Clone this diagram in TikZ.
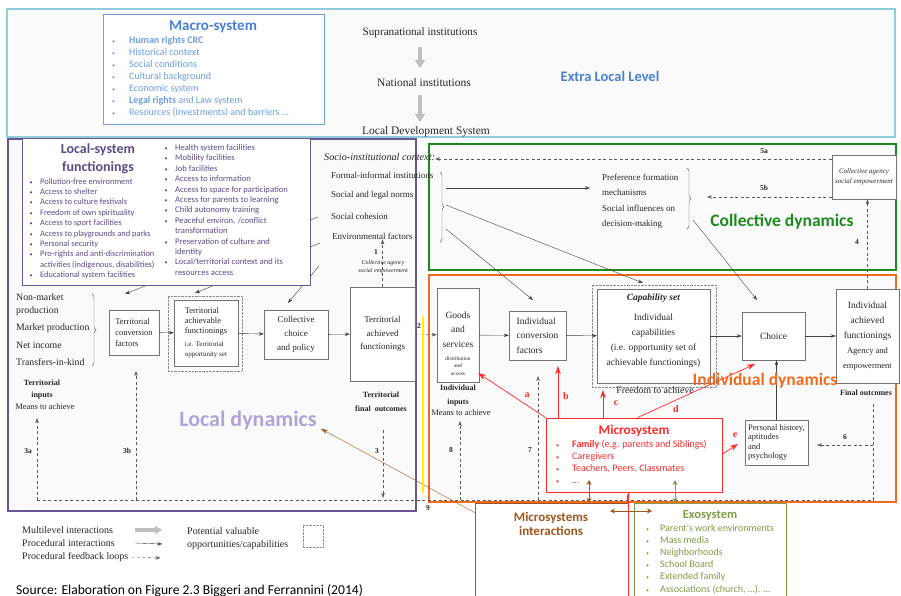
\documentclass[tikz,border=0pt]{standalone}
\usepackage{fontspec}
\setmainfont{Liberation Serif}
\newfontfamily\sansc{Carlito}
\usetikzlibrary{arrows.meta}
\usetikzlibrary{decorations.pathreplacing}

\definecolor{bggray}{HTML}{FAFAFA}
\definecolor{elblue}{HTML}{92CDDC}
\definecolor{macroline}{HTML}{6FA0E0}
\definecolor{macroblue}{HTML}{4A80D4}
\definecolor{macroitem}{HTML}{6C9DE2}
\definecolor{locpurple}{HTML}{6B5694}
\definecolor{loctext}{HTML}{5E4A86}
\definecolor{locdyn}{HTML}{B3A2D6}
\definecolor{colgreen}{HTML}{1E8A1E}
\definecolor{indorange}{HTML}{F26B1D}
\definecolor{microred}{HTML}{FF2A2A}
\definecolor{mintbrown}{HTML}{A0561E}
\definecolor{exoolive}{HTML}{7E9D45}

\newcommand{\itembul}{{\fontsize{6}{6}\selectfont\textbullet}}

\begin{document}
\begin{tikzpicture}[x=1pt, y=-1pt,
  zone/.style={line width=1.8pt, fill=bggray},
  box/.style={draw=black!55, fill=white, align=center, inner sep=0pt, text=black!85},
  optset/.style={draw=black!45, densely dotted},
  txt/.style={inner sep=0pt, text=black!85, font=\fontsize{9}{11}\selectfont},
  lbl/.style={inner sep=0pt, text=black!85, font=\bfseries\fontsize{7.5}{9}\selectfont},
  redlbl/.style={inner sep=0pt, text=microred, font=\bfseries\fontsize{10}{12}\selectfont},
  proc/.style={black!75, -{Stealth[length=5pt,width=3.5pt]}},
  fback/.style={black!65, dash pattern=on 3pt off 2.5pt, -{Stealth[length=5pt,width=3.5pt]}},
  multi/.style={black!25, line width=4.5pt, -{Triangle[length=8pt,width=10pt]}},
  redarr/.style={microred, line width=0.7pt, -{Stealth[length=8pt,width=5.5pt]}},
  dbl/.style={line width=1pt, {Stealth[length=5pt,width=5pt]}-{Stealth[length=5pt,width=5pt]}},
  brc/.style={black!60, decorate, decoration={brace, amplitude=4pt}},
  dyn/.style={inner sep=0pt, font=\sansc\bfseries\fontsize{17.5}{20}\selectfont},
]
  \useasboundingbox (0,0) rectangle (901,596);

  % the four levels
  \draw[zone, draw=elblue] (7,9) rectangle (895,137);
  \draw[zone, draw=locpurple] (8,139) rectangle (416,511);
  \draw[zone, draw=colgreen] (429,144) rectangle (896,270);
  \draw[zone, draw=indorange] (429,275) rectangle (896,502);

  % extra local level
  \node[draw=macroline, fill=white, minimum width=221, minimum height=110, inner sep=0] (macro) at (213.5,69) {};
  \node[inner sep=0, text=macroblue, font=\sansc\bfseries\fontsize{15}{17}\selectfont] (macrot) at (213,27) {Macro-system};
  \node[anchor=base west, inner sep=0, text=macroitem, font=\sansc\fontsize{10}{12}\selectfont] (macrol) at (112,44) {%
    \begin{tabular}[t]{@{}p{17pt}@{}l@{}}
      \itembul & \textbf{Human rights CRC}\\
      \itembul & Historical context\\
      \itembul & Social conditions\\
      \itembul & Cultural background\\
      \itembul & Economic system\\
      \itembul & \textbf{Legal rights} and Law system\\
      \itembul & Resources (Investments) and barriers …
    \end{tabular}};
  \node[txt, font=\fontsize{11.2}{13}\selectfont] (supra) at (420,33) {Supranational institutions};
  \node[txt, font=\fontsize{11.5}{13}\selectfont] (natio) at (424,83) {National institutions};
  \node[txt, font=\fontsize{11.5}{13}\selectfont] (ldsys) at (426,132) {Local Development System};
  \draw[multi, shorten <=9pt, shorten >=15pt] (supra) -- (supra |- natio);
  \draw[multi, shorten <=12pt, shorten >=10pt] (supra |- natio) -- (supra |- ldsys);
  \node[inner sep=0, text=macroblue, font=\sansc\bfseries\fontsize{14.5}{16}\selectfont] (extra) at (610,76) {Extra Local Level};

  % socio-institutional context
  \node[txt, anchor=west, font=\itshape\fontsize{10.2}{12}\selectfont] (socio) at (324,157) {Socio-institutional context:};
  \node[txt, anchor=west] (fii) at (331,175) {Formal-informal institutions};
  \node[txt, anchor=west] (sln) at (331,195) {Social and legal norms};
  \node[txt, anchor=west] (scoh) at (331,216) {Social cohesion};
  \node[txt, anchor=west] (envf) at (332,236) {Environmental factors};
  \draw[brc] (440,172) -- (440,242);
  \coordinate (sc1) at (446,188);
  \coordinate (sc2) at (446,205);
  \coordinate (sc3) at (446,229);

  % lines running under the local-system box
  \coordinate (sc4) at (318,217);
  \coordinate (sc5) at (320,243);
  \coordinate (sc6) at (319,266);
  \coordinate (tcfin) at (125,294);
  \coordinate (tafin) at (195,293);
  \coordinate (ccpin) at (288,303);
  \draw[proc] (sc4) -- (tcfin);
  \draw[proc] (sc5) -- (tafin);
  \draw[proc] (sc6) -- (ccpin);

  % local-system functionings
  \node[draw=locpurple, fill=white, minimum width=288, minimum height=147, inner sep=0] (lsys) at (166,211.5) {};
  \node[inner sep=0, align=center, text=loctext, font=\sansc\bfseries\fontsize{14}{18}\selectfont] (lsyst) at (98,159) {Local-system\\functionings};
  \node[anchor=base west, inner sep=0, text=loctext, font=\sansc\fontsize{8.4}{10.4}\selectfont] (lsysl) at (29.5,184) {%
    \begin{tabular}[t]{@{}p{10.5pt}@{}l@{}}
      \itembul & Pollution-free environment\\
      \itembul & Access to shelter\\
      \itembul & Access to culture festivals\\
      \itembul & Freedom of own spirituality\\
      \itembul & Access to sport facilities\\
      \itembul & Access to playgrounds and parks\\
      \itembul & Personal security\\
      \itembul & Pro-rights and anti-discrimination\\
               & activities (indigenous, disabilities)\\
      \itembul & Educational system facilities
    \end{tabular}};
  \node[anchor=base west, inner sep=0, text=loctext, font=\sansc\fontsize{8.6}{10.4}\selectfont] (lsysr) at (164.5,150.5) {%
    \begin{tabular}[t]{@{}p{10.5pt}@{}l@{}}
      \itembul & Health system facilities\\
      \itembul & Mobility facilities\\
      \itembul & Job facilities\\
      \itembul & Access to information\\
      \itembul & Access to space for participation\\
      \itembul & Access for parents to learning\\
      \itembul & Child autonomy training\\
      \itembul & Peaceful environ. /conflict\\
               & transformation\\
      \itembul & Preservation of culture and\\
               & identity\\
      \itembul & Local/territorial context and its\\
               & resources access
    \end{tabular}};

  % local dynamics
  \node[txt, anchor=west, font=\fontsize{9.8}{11}\selectfont] (nmp) at (16,297) {Non-market};
  \node[txt, anchor=west, font=\fontsize{9.8}{11}\selectfont] (prod) at (16,311) {production};
  \node[txt, anchor=west, font=\fontsize{9.8}{11}\selectfont] (mprod) at (16,328) {Market production};
  \node[txt, anchor=west, font=\fontsize{9.8}{11}\selectfont] (netinc) at (16,345) {Net income};
  \node[txt, anchor=west, font=\fontsize{9.8}{11}\selectfont] (tik) at (16,362) {Transfers-in-kind};
  \draw[brc] (92,294) -- (92,366);
  \node[box, align=left, minimum width=50, minimum height=45, font=\fontsize{8.5}{11}\selectfont] (tcf) at (134,332.5) {Territorial\\conversion\\factors};
  \node[optset, minimum width=74, minimum height=75] (tafout) at (205,333.5) {};
  \node[box, align=left, minimum width=64, minimum height=66, font=\fontsize{8.5}{10}\selectfont] (taf) at (206,333) {Territorial\\achievable\\functionings\\[3pt]\fontsize{7}{9}\selectfont i.e. Territorial\\\fontsize{7}{9}\selectfont opportunity set};
  \node[box, minimum width=64, minimum height=49, font=\fontsize{9}{14}\selectfont] (ccp) at (296,334.5) {Collective\\choice\\and policy};
  \node[box, minimum width=65, minimum height=94, font=\fontsize{9}{13.5}\selectfont] (tach) at (382.5,334) {Territorial\\achieved\\functionings};
  \draw[proc] (tcf) -- (taf);
  \draw[proc] (taf) -- (ccp);
  \draw[proc] (ccp) -- (tach);
  \node[lbl, align=center, font=\bfseries\fontsize{8}{12}\selectfont] (tinp) at (42,390) {Territorial\\inputs};
  \node[txt, font=\fontsize{8.5}{10}\selectfont] (tmta) at (45,407) {Means to achieve};
  \node[lbl, align=center, font=\bfseries\fontsize{8}{14}\selectfont] (tfo) at (381,402) {Territorial\\final\ \ outcomes};
  \draw[fback] (tach.north) -- (tach.north |- envf.south);
  \node[lbl] (l1) at (376,252) {1};
  \node[txt, align=center, font=\itshape\fontsize{6}{8}\selectfont] (ca1) at (383,267) {Collective agency\\social empowerment};

  % collective dynamics
  \node[txt, anchor=west] (pfm) at (602,177) {Preference formation};
  \node[txt, anchor=west] (mech) at (602,192) {mechanisms};
  \node[txt, anchor=west] (sinf) at (602,208) {Social influences on};
  \node[txt, anchor=west] (dmak) at (602,224) {decision-making};
  \draw[brc] (687,168) -- (687,229);
  \node[box, minimum width=64, minimum height=44, font=\itshape\fontsize{7}{10}\selectfont] (colag) at (864,177) {Collective agency\\social empowerment};
  \coordinate (pfin) at (590,188);
  \coordinate (pfout) at (693,220);
  \coordinate (pfbr) at (707,197);
  \coordinate (capin) at (643,283);
  \coordinate (icfin) at (533,300);
  \coordinate (chin) at (757,300);
  \draw[proc] (sc1) -- (pfin);
  \draw[proc] (sc2) -- (capin);
  \draw[proc] (sc3) -- (icfin);
  \draw[proc] (pfout) -- (chin);
  \draw[fback] ([yshift=18pt]colag.west) -- ([yshift=18pt]colag.west -| socio.east);
  \draw[fback] ([yshift=-20pt]colag.west) -- (pfbr);
  \node[lbl] (l5a) at (764,151) {5a};
  \node[lbl] (l5b) at (764,188) {5b};

  % individual dynamics
  \node[box, minimum width=42, minimum height=94] (goods) at (458,335) {};
  \node[txt, align=center, font=\fontsize{9.5}{14.5}\selectfont] (goodstxt) at (458,343.5) {Goods\\and\\services\\[-1.5pt]\fontsize{5.5}{7.5}\selectfont distribution\\[-7pt]\fontsize{5.5}{7.5}\selectfont and\\[-7pt]\fontsize{5.5}{7.5}\selectfont access};
  \node[box, align=left, minimum width=57, minimum height=49, font=\fontsize{9.5}{14.5}\selectfont] (icf) at (537.5,335.5) {Individual\\conversion\\factors};
  \node[optset, minimum width=124, minimum height=102] (capout) at (654,336) {};
  \node[box, minimum width=113, minimum height=94] (capset) at (653.5,336) {};
  \node[txt, align=center, font=\fontsize{9.5}{15}\selectfont] (captxt) at (653.5,331) {\textbf{\textit{Capability set}}\\[5pt]Individual\\capabilities\\(i.e. opportunity set of\\achievable functionings)};
  \node[box, minimum width=63, minimum height=48, font=\fontsize{9.5}{11}\selectfont] (choice) at (773.5,336) {Choice};
  \node[box, minimum width=63, minimum height=94, font=\fontsize{9.5}{15}\selectfont] (iaf) at (867.5,336) {Individual\\achieved\\functionings\\\fontsize{8.5}{16}\selectfont Agency and\\\fontsize{8.5}{16}\selectfont empowerment};
  \draw[proc] (goods) -- (icf);
  \draw[proc] (icf) -- (capset);
  \draw[proc] (capset) -- (choice);
  \draw[proc] (choice) -- (iaf);
  \draw[fback] (tach) -- (goods);
  \node[lbl] (l2) at (419,326) {2};
  \draw[fback] (iaf.north) -- (iaf.north |- colag.south);
  \node[lbl] (l4) at (857,242) {4};
  \node[lbl, align=center, font=\bfseries\fontsize{8}{14}\selectfont] (iinp) at (458,396) {Individual\\inputs};
  \node[txt, font=\fontsize{8.5}{10}\selectfont] (imta) at (461,413) {Means to achieve};
  \node[txt, font=\fontsize{9.8}{11}\selectfont] (fta) at (655,390) {Freedom to achieve};
  \node[lbl, font=\bfseries\fontsize{8}{10}\selectfont] (fout) at (866,393) {Final outcomes};
  \node[box, align=left, minimum width=63, minimum height=45, font=\fontsize{8.5}{9.6}\selectfont] (pers) at (776.5,442.5) {Personal history,\\aptitudes\\and\\psychology};
  \draw[proc] (pers.north) -- (pers.north |- choice.south);

  % feedback loops along the bottom
  \coordinate (fbl) at (37,500);
  \coordinate (fbr) at (873,500);
  \coordinate (fbt) at (873,403);
  \coordinate (f3a) at (37,418);
  \coordinate (f3b) at (136,371);
  \coordinate (f3s) at (383,430);
  \coordinate (f3e) at (383,498);
  \coordinate (f8s) at (460,500);
  \coordinate (f8e) at (460,421);
  \coordinate (f7s) at (538,500);
  \coordinate (f7e) at (538,376);
  \coordinate (f6s) at (873,445);
  \coordinate (f6e) at (817,445);
  \draw[black!65, dash pattern=on 3pt off 2.5pt] (fbl) -- (fbr) -- (fbt);
  \draw[fback] (fbl) -- (f3a);
  \draw[fback] (fbl -| f3b) -- (f3b);
  \draw[fback] (f3s) -- (f3e);
  \draw[fback] (f8s) -- (f8e);
  \draw[fback] (f7s) -- (f7e);
  \draw[fback] (f6s) -- (f6e);
  \node[lbl] (l3a) at (28,451) {3a};
  \node[lbl] (l3b) at (127,451) {3b};
  \node[lbl] (l3) at (377,451) {3};
  \node[lbl] (l8) at (451,450) {8};
  \node[lbl] (l7) at (530,450) {7};
  \node[lbl] (l6) at (845,437) {6};
  \node[lbl] (l9) at (428,508) {9};

  % microsystem, its interactions and exosystem
  \node[draw=mintbrown, minimum width=153, minimum height=110, inner sep=0] (mint) at (551.5,558) {};
  \node[inner sep=0, align=center, text=mintbrown, font=\sansc\bfseries\fontsize{13}{14.5}\selectfont] (mintt) at (551,524) {Microsystems\\interactions};
  \node[draw=exoolive, fill=white, minimum width=152, minimum height=110, inner sep=0] (exo) at (710,558) {};
  \node[inner sep=0, text=exoolive, font=\sansc\bfseries\fontsize{12.5}{14}\selectfont] (exot) at (710,515) {Exosystem};
  \node[anchor=base west, inner sep=0, text=exoolive, font=\sansc\fontsize{10}{12.2}\selectfont] (exol) at (646,531) {%
    \begin{tabular}[t]{@{}p{14pt}@{}l@{}}
      \itembul & Parent's work environments\\
      \itembul & Mass media\\
      \itembul & Neighborhoods\\
      \itembul & School Board\\
      \itembul & Extended family\\
      \itembul & Associations (church, …). …
    \end{tabular}};
  \node[draw=microred, fill=white, line width=0.9pt, minimum width=176, minimum height=74, inner sep=0] (micro) at (634,455) {};
  \draw[microred] (micro.south -| mint.east) -- ([yshift=-50pt]mint.south east);
  \node[inner sep=0, text=microred, font=\sansc\bfseries\fontsize{13.3}{15}\selectfont] (microt) at (634,431) {Microsystem};
  \node[anchor=base west, inner sep=0, text=microred, font=\sansc\fontsize{10}{12.3}\selectfont] (microl) at (556,447) {%
    \begin{tabular}[t]{@{}p{16pt}@{}l@{}}
      \itembul & \textbf{Family} (e.g. parents and Siblings)\\
      \itembul & Caregivers\\
      \itembul & Teachers, Peers, Classmates\\
      \itembul & …
    \end{tabular}};
  \coordinate (ra) at (478,373);
  \coordinate (rb) at (558,366);
  \coordinate (rc) at (603,390);
  \coordinate (rd) at (755,364);
  \coordinate (re) at (738,444);
  \draw[redarr] (micro.north west) -- (ra);
  \draw[redarr] (micro.north west -| rb) -- (rb);
  \draw[redarr] (micro.north west -| rc) -- (rc);
  \draw[redarr] ([xshift=92pt]micro.north west) -- (rd);
  \draw[redarr] ([yshift=1pt]micro.east) -- (re);
  \node[redlbl] (la) at (527,395) {a};
  \node[redlbl] (lb) at (566,396) {b};
  \node[redlbl] (lc) at (616,403) {c};
  \node[redlbl] (ld) at (676,409) {d};
  \node[redlbl] (le) at (735,435) {e};
  \node[redlbl] (lf) at (628,498) {f};
  \coordinate (mup) at (589,480);
  \coordinate (oup) at (675,480);
  \coordinate (hl) at (610,511);
  \coordinate (hr) at (652,511);
  \draw[dbl, mintbrown] (mup) -- (mup |- mint.north);
  \draw[dbl, exoolive] (oup) -- (oup |- exo.north);
  \draw[dbl, mintbrown] (hl) -- (hr);

  % dynamics titles
  \node[dyn, text=locdyn, font=\sansc\bfseries\fontsize{22}{24}\selectfont] (locdyn) at (248,421) {Local dynamics};
  \node[dyn, text=indorange] (inddyn) at (765,381) {Individual dynamics};
  \node[dyn, text=colgreen] (coldyn) at (782,222) {Collective dynamics};
  \draw[mintbrown, -{Stealth[length=7pt,width=4pt]}] ([yshift=-10pt]mint.north west) -- ([xshift=4pt,yshift=2pt]locdyn.south east);
  \draw[yellow, line width=2.5pt] (423,316) -- (423,493);

  % legend
  \node[txt, anchor=west, font=\fontsize{10}{12}\selectfont] (lg1) at (22,530) {Multilevel interactions};
  \node[txt, anchor=west, font=\fontsize{10}{12}\selectfont] (lg2) at (22,543) {Procedural interactions};
  \node[txt, anchor=west, font=\fontsize{10}{12}\selectfont] (lg3) at (22,557) {Procedural feedback loops};
  \draw[black!25, line width=3.5pt, -{Triangle[length=7pt,width=8pt]}] ([xshift=22pt]lg1.east) -- ++(27,0);
  \draw[proc] ([xshift=22pt]lg1.east |- lg2.east) -- ++(27,1);
  \draw[fback] ([xshift=3pt]lg3.east) -- ++(29,1);
  \node[txt, anchor=west, font=\fontsize{10}{12}\selectfont] (lg4) at (187,531) {Potential valuable};
  \node[txt, anchor=west, font=\fontsize{10}{12}\selectfont] (lg5) at (187,545) {opportunities/capabilities};
  \node[optset, minimum width=20, minimum height=22] (lg6) at (313,536) {};
  \node[anchor=base west, inner sep=0, font=\sansc\fontsize{13.6}{15}\selectfont] (src) at (16,594) {Source: Elaboration on Figure 2.3 Biggeri and Ferrannini (2014)};
\end{tikzpicture}
\end{document}
